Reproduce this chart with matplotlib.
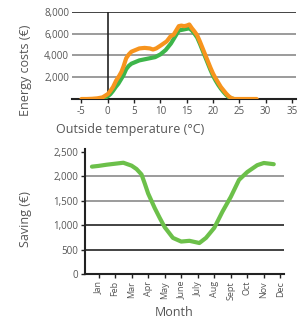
import matplotlib
matplotlib.use("Agg")
import matplotlib.pyplot as plt

plt.rcParams['font.family'] = ['Open Sans', 'DejaVu Sans']

# ---- top chart data ----
orange_temp = [-5, -4, -3, -2, -1, 0, 0.5, 1, 1.6, 2.2, 2.6, 3, 3.5, 4, 4.5, 5, 5.5, 6, 7, 8, 8.6, 9.2,
               10, 10.6, 11.2, 12, 12.5, 13, 13.5, 14, 14.5, 15, 15.5, 16, 16.5, 17, 17.5, 18, 18.5,
               19, 19.5, 20, 20.5, 21, 21.5, 22, 22.5, 23, 23.5, 24, 28.3]
orange_cost = [0, 0, 20, 60, 150, 450, 750, 1100, 1700, 2150, 2500, 3000, 3750, 4100, 4350, 4450, 4550,
               4650, 4700, 4650, 4550, 4650, 4900, 5100, 5300, 5800, 5900, 6300, 6700, 6750, 6700, 6750,
               6850, 6500, 6200, 5850, 5300, 4700, 4100, 3500, 2900, 2350, 1900, 1500, 1100, 800, 500,
               250, 80, 0, 0]

green_temp = [-1.5, -1, -0.5, 0, 0.5, 1, 1.5, 2, 2.5, 3, 3.5, 4, 4.5, 5, 6, 7, 8, 9, 10, 11, 12, 12.5,
              13, 13.5, 14, 14.5, 15, 15.5, 16, 16.5, 17, 17.5, 18, 18.5, 19, 19.5, 20, 20.5, 21, 21.5,
              22, 22.5, 23, 23.5, 24]
green_cost = [0, 50, 120, 250, 450, 750, 1100, 1400, 1800, 2200, 2750, 3050, 3250, 3350, 3550, 3650,
              3750, 3850, 4100, 4500, 5100, 5500, 5900, 6300, 6350, 6400, 6450, 6500, 6300, 6000, 5650,
              5100, 4500, 3900, 3300, 2700, 2150, 1700, 1300, 950, 650, 380, 170, 50, 0]

temp_ticks = [-5, 0, 5, 10, 15, 20, 25, 30, 35]
cost_ticks = [2000, 4000, 6000, 8000]
cost_labels = ['2,000', '4,000', '6,000', '8,000']

# ---- bottom chart data ----
months = ['Jan', 'Feb', 'Mar', 'Apr', 'May', 'June', 'July', 'Aug', 'Sept', 'Oct', 'Nov', 'Dec']
saving_pos = [-0.4, 0, 0.5, 1, 1.5, 2, 2.3, 2.6, 2.8, 3.0, 3.4, 3.7, 4, 4.5, 5, 5.5, 6.1, 6.5, 7, 7.5,
              8, 8.5, 9, 9.6, 10, 10.6]
saving_val = [2200, 2215, 2240, 2260, 2280, 2220, 2150, 2040, 1850, 1650, 1350, 1150, 960, 740, 665,
              680, 635, 740, 945, 1280, 1580, 1930, 2090, 2230, 2275, 2250]
saving_ticks = [0, 500, 1000, 1500, 2000, 2500]
saving_labels = ['0', '500', '1,000', '1,500', '2,000', '2,500']

ORANGE = '#F7941D'
GREEN_TOP = '#3DB54A'
GREEN_BOT = '#6CC04A'
TXT = '#555555'

fig = plt.figure(figsize=(3.0, 3.23), dpi=100)

# ---- top ----
ax1 = fig.add_axes([0.24, 1 - 99 / 323, 0.747, 87 / 323])
ax1.set_xlim(-6.8, 35.8)
ax1.set_ylim(0, 8000)
for v in cost_ticks:
    ax1.axhline(v, color='#222222' if v == 8000 else '#8a8a8a', lw=1.2, zorder=1)
ax1.axvline(0, color='#222222', lw=1.2, zorder=1)
ax1.plot(green_temp, green_cost, color=GREEN_TOP, lw=3, solid_capstyle='round', zorder=3)
ax1.plot(orange_temp, orange_cost, color=ORANGE, lw=3, solid_capstyle='round', zorder=4)
for s in ['left', 'right', 'top']:
    ax1.spines[s].set_visible(False)
ax1.spines['bottom'].set_color('#222222')
ax1.spines['bottom'].set_linewidth(1.5)
ax1.set_xticks(temp_ticks)
ax1.set_xticklabels([str(t) for t in temp_ticks])
ax1.set_yticks(cost_ticks)
ax1.set_yticklabels(cost_labels)
ax1.tick_params(axis='x', length=3, width=1, color='#222222', labelsize=7, labelcolor=TXT, pad=2)
ax1.tick_params(axis='y', length=0, labelsize=7, labelcolor=TXT, pad=2)
fig.text(130 / 300, 1 - 130 / 323, 'Outside temperature (°C)', ha='center', va='center',
         fontsize=9, color=TXT)
fig.text(26 / 300, 1 - 70 / 323, 'Energy costs (€)', ha='center', va='center', rotation=90,
         fontsize=9, color=TXT)

# ---- bottom ----
ax2 = fig.add_axes([85 / 300, 1 - 274 / 323, 199 / 300, 122 / 323])
ax2.set_xlim(-0.82, 11.22)
ax2.set_ylim(0, 2500)
for v in [500, 1000]:
    ax2.axhline(v, color='#222222', lw=1.2, zorder=1)
for v in [1500, 2000]:
    ax2.axhline(v, color='#8a8a8a', lw=1.2, zorder=1)
ax2.plot(saving_pos, saving_val, color=GREEN_BOT, lw=3, solid_capstyle='round', zorder=3)
for s in ['right', 'top']:
    ax2.spines[s].set_visible(False)
for s in ['left', 'bottom']:
    ax2.spines[s].set_color('#222222')
    ax2.spines[s].set_linewidth(1.5)
ax2.spines['left'].set_bounds(0, 2560)
ax2.set_xticks(range(len(months)))
ax2.set_xticklabels(months, rotation=90)
ax2.set_yticks(saving_ticks)
ax2.set_yticklabels(saving_labels)
ax2.tick_params(axis='x', length=3, width=1, color='#222222', labelsize=6.5, labelcolor=TXT, pad=2)
ax2.tick_params(axis='y', length=3, width=1, color='#222222', labelsize=7, labelcolor=TXT, pad=2)
fig.text(174 / 300, 1 - 313 / 323, 'Month', ha='center', va='center', fontsize=9, color=TXT)
fig.text(26 / 300, 1 - 219 / 323, 'Saving (€)', ha='center', va='center', rotation=90,
         fontsize=9, color=TXT)

fig.savefig('out.png', dpi=100)
